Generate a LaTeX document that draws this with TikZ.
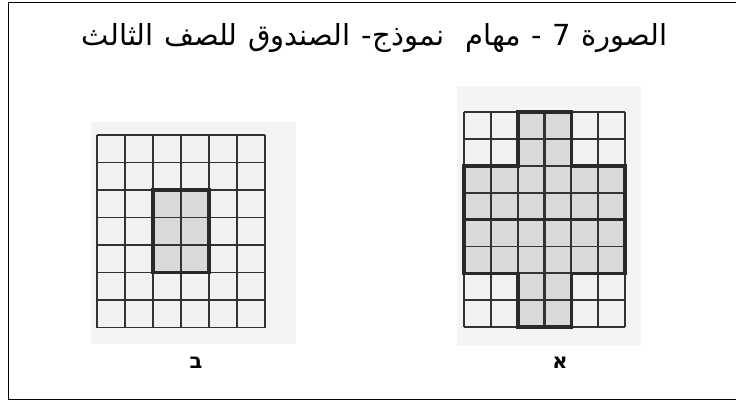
\documentclass[tikz,border=0pt]{standalone}
\usepackage{fontspec}
\TeXXeTstate=1
\newfontfamily\arabicfont[Script=Arabic]{DejaVu Sans}
\newfontfamily\hebfont[Script=Hebrew]{DejaVu Sans}
\definecolor{photobg}{HTML}{F4F4F4}
\definecolor{cellbg}{HTML}{F2F2F2}
\definecolor{cellshade}{HTML}{D9D9D9}
\definecolor{gridcol}{HTML}{333333}
\tikzset{
  gridline/.style={draw=gridcol, line width=1.9pt},
  thickline/.style={draw=gridcol!80!black, line width=3.6pt, line join=miter},
  midline/.style={draw=gridcol, line width=2.6pt},
  photo/.style={fill=photobg},
  hebl/.style={font=\hebfont\bfseries\fontsize{21}{25}\selectfont, inner sep=0pt},
  tw/.style={font=\arabicfont\fontsize{29}{33}\selectfont, inner sep=0pt, anchor=base east}
}
\begin{document}
\begin{tikzpicture}[x=1pt,y=-1pt]
\useasboundingbox (0,0) rectangle (736,401);
\fill[white] (0,0) rectangle (736,401);
\draw[line width=1.5pt] (736,2.5) -- (8.5,2.5) -- (8.5,399.5) -- (736,399.5);
% title: read from right to left
\node[tw] (t1) at (668,46) {\beginR الصورة\endR};
\node[tw] (t2) at ([xshift=-10pt]t1.base west) {7};
\node[tw] (t3) at ([xshift=-10pt]t2.base west) {-};
\node[tw] (t4) at ([xshift=-10pt]t3.base west) {\beginR مهام\endR};
\node[tw] (t5) at ([xshift=-21pt]t4.base west) {\beginR نموذج\endR};
\node[tw] (t6) at ([xshift=-1pt]t5.base west) {-};
\node[tw] (t7) at ([xshift=-10pt]t6.base west) {\beginR الصندوق\endR};
\node[tw] (t8) at ([xshift=-10pt]t7.base west) {\beginR للصف\endR};
\node[tw] (t9) at ([xshift=-10pt]t8.base west) {\beginR الثالث\endR};
% photo backgrounds
\fill[photo] (91,122) rectangle (296,344);
\fill[photo] (457,86) rectangle (641,346);
% grid B (left)
\begin{scope}[shift={(97,135)}, x=28pt, y=-27.5pt]
  \fill[cellbg] (0,0) rectangle (6,7);
  \fill[cellshade] (2,2) rectangle (4,5);
  \foreach \i in {0,...,6} \draw[gridline] (\i,0) -- (\i,7);
  \foreach \j in {0,...,7} \draw[gridline] (0,\j) -- (6,\j);
  \draw[midline] (3,2) -- (3,5);
  \draw[thickline] (2,2) rectangle (4,5);
\end{scope}
% grid A (right)
\begin{scope}[shift={(464,112)}, x=26.85pt, y=-26.9pt]
  \fill[cellbg] (0,0) rectangle (6,8);
  \fill[cellshade] (2,0) rectangle (4,8);
  \fill[cellshade] (0,2) rectangle (6,6);
  \foreach \i in {0,...,6} \draw[gridline] (\i,0) -- (\i,8);
  \foreach \j in {0,...,8} \draw[gridline] (0,\j) -- (6,\j);
  \draw[midline] (3,0) -- (3,8);
  \draw[thickline] (0,4) -- (6,4);
  \draw[thickline] (2,0) -- (4,0) -- (4,2) -- (6,2) -- (6,6) -- (4,6) -- (4,8) -- (2,8) -- (2,6) -- (0,6) -- (0,2) -- (2,2) -- cycle;
\end{scope}
% labels
\node[hebl] (lblB) at (196,363) {ב};
\node[hebl] (lblA) at (560,363) {א};
\end{tikzpicture}
\end{document}
